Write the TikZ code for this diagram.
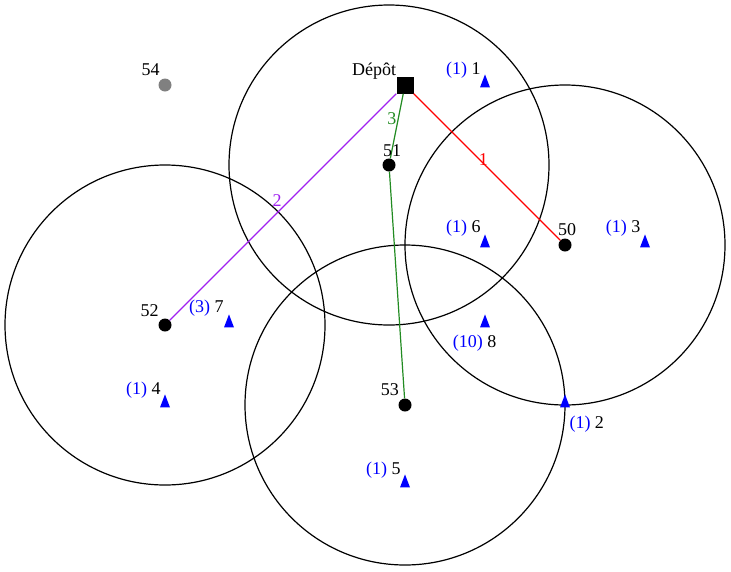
\documentclass[tikz,border=0pt]{standalone}
\usepackage{fontspec}
\setmainfont{Liberation Serif}
\usetikzlibrary{shapes.geometric}
\definecolor{routepurple}{RGB}{160,32,240}
\definecolor{routegreen}{RGB}{34,139,34}

\begin{document}
\begin{tikzpicture}[x=1pt,y=-1pt,font=\fontsize{18}{20}\selectfont]
        \useasboundingbox (0,0) rectangle (731,571);

        \node[rectangle,fill=black,minimum size=17pt,inner sep=0] (depot) at (405,85) {};

        \begin{scope}[every node/.style={circle,fill=black,minimum size=13pt,inner sep=0}]
          \node (50) at (565,245) {};
          \node (51) at (389,165) {};
          \node (52) at (165,325) {};
          \node (53) at (405,405) {};
          \node[fill=gray] (54) at (165,85) {};
        \end{scope}

        \foreach \f in {50,51,52,53}
          \draw[line width=1.2pt] (\f.center) circle[radius=160];

        \begin{scope}[line width=1.2pt,every node/.style={inner sep=0}]
          \draw[red] (depot) -- node[shift={(-3.5pt,7.5pt)}] {1} (50);
          \draw[routepurple] (depot) -- node[shift={(-6pt,6pt)}] {2} (52);
          \draw[routegreen] (depot) -- node[shift={(-5pt,7pt)}] {3} (51) -- (53);
        \end{scope}

        \begin{scope}[every node/.style={isosceles triangle,shape border rotate=90,
            isosceles triangle stretches,minimum width=10pt,minimum height=13pt,
            fill=blue,inner sep=0}]
          \node (1) at (485,84)  {};
          \node (2) at (565,404) {};
          \node (3) at (645,244) {};
          \node (4) at (165,404) {};
          \node (5) at (405,484) {};
          \node (6) at (485,244) {};
          \node (7) at (229,324) {};
          \node (8) at (485,324) {};
        \end{scope}

        \begin{scope}[every node/.style={anchor=base west,inner sep=0}]
          \node (depot-lbl) at (352,75)  {Dépôt};
          \node (50-lbl) at (558,235)    {50};
          \node (51-lbl) at (383,156)    {51};
          \node (52-lbl) at (140.5,316)  {52};
          \node (53-lbl) at (380.7,395.7) {53};
          \node (54-lbl) at (141.5,75.5) {54};
          \node (1-lbl) at (446,74)      {\textcolor{blue}{(1)} 1};
          \node (2-lbl) at (569.3,428.3) {\textcolor{blue}{(1)} 2};
          \node (3-lbl) at (605.7,232.7) {\textcolor{blue}{(1)} 3};
          \node (4-lbl) at (126,394)     {\textcolor{blue}{(1)} 4};
          \node (5-lbl) at (366,474)     {\textcolor{blue}{(1)} 5};
          \node (6-lbl) at (446,232.7)   {\textcolor{blue}{(1)} 6};
          \node (7-lbl) at (189,312.7)   {\textcolor{blue}{(3)} 7};
          \node (8-lbl) at (452.7,347.7) {\textcolor{blue}{(10)} 8};
        \end{scope}

      \end{tikzpicture}
\end{document}
